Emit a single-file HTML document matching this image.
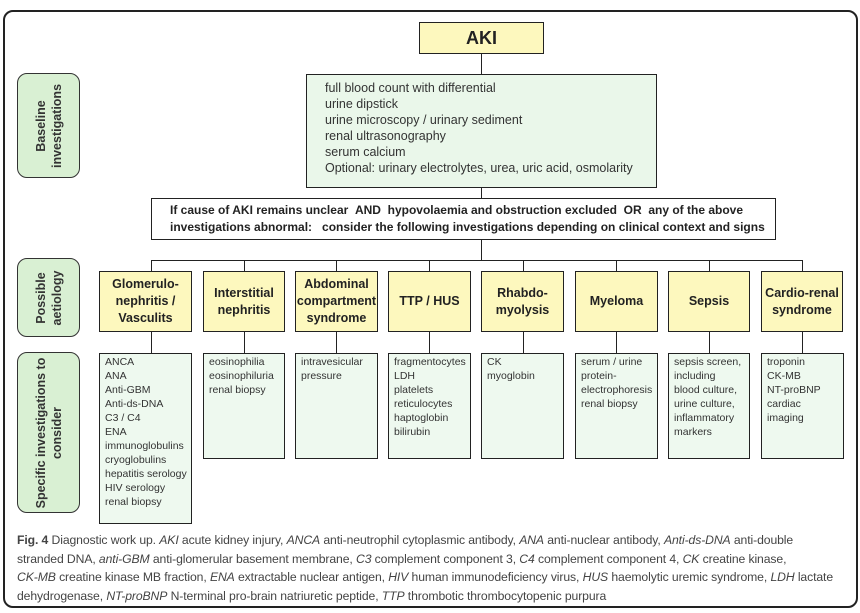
<!DOCTYPE html>
<html><head><meta charset="utf-8"><style>
body{margin:0;width:860px;height:613px;background:#fff;position:relative;overflow:hidden;font-family:"Liberation Sans",sans-serif;color:#222}
div{position:absolute;box-sizing:border-box}
.frame{left:3px;top:10px;width:855px;height:598px;border:2px solid #222;border-radius:10px}
.lab{left:17px;width:63px;border:1px solid #333;border-radius:10px;background:#d9f0d3}
.lab span{position:absolute;left:50%;top:50%;transform:translate(-50%,-50%) rotate(-90deg);white-space:nowrap;font-weight:bold;font-size:12.5px;text-align:center;line-height:16px;color:#333}
.y{top:271px;height:61px;border:1px solid #222;background:#fdf8be;font-weight:bold;font-size:12.5px;line-height:17px;display:flex;align-items:center;justify-content:center;text-align:center}
.g{top:353px;height:106px;border:1px solid #222;background:#eef9ef;font-size:10.5px;line-height:14px;padding:1px 0 0 5px;white-space:nowrap;color:#333}
.l{background:#222}
.cap{left:17px;top:531px;width:840px;font-size:12.2px;line-height:18.7px;color:#444;white-space:nowrap;letter-spacing:-0.1px}
</style></head><body>
<div class="frame"></div>
<div class="lab" style="top:73px;height:105px"><span>Baseline<br>investigations</span></div>
<div class="lab" style="top:258px;height:79px"><span>Possible<br>aetiology</span></div>
<div class="lab" style="top:352px;height:161px"><span>Specific investigations to<br>consider</span></div>

<div class="l" style="left:481px;top:53px;width:1px;height:21px"></div>
<div class="l" style="left:481px;top:187px;width:1px;height:11px"></div>
<div class="l" style="left:481px;top:239px;width:1px;height:21px"></div>
<div class="l" style="left:151px;top:260px;width:652px;height:1px"></div>

<div style="left:419px;top:22px;width:125px;height:32px;border:1px solid #222;background:#fdf8be;font-weight:bold;font-size:18px;text-align:center;line-height:30px">AKI</div>
<div style="left:306px;top:74px;width:351px;height:114px;border:1px solid #222;background:#eaf7ea;font-size:12.5px;line-height:16px;padding:5px 0 0 18px;color:#333">full blood count with differential<br>urine dipstick<br>urine microscopy / urinary sediment<br>renal ultrasonography<br>serum calcium<br>Optional: urinary electrolytes, urea, uric acid, osmolarity</div>
<div style="left:151px;top:198px;width:625px;height:42px;border:1px solid #222;background:#fff;font-weight:bold;font-size:12px;line-height:17px;padding:3px 0 0 18px;white-space:nowrap">If cause of AKI remains unclear &nbsp;AND &nbsp;hypovolaemia and obstruction excluded &nbsp;OR &nbsp;any of the above<br>investigations abnormal: &nbsp; consider the following investigations depending on clinical context and signs</div>

<div class="l" style="left:151px;top:260px;width:1px;height:11px"></div>
<div class="l" style="left:244px;top:260px;width:1px;height:11px"></div>
<div class="l" style="left:336px;top:260px;width:1px;height:11px"></div>
<div class="l" style="left:429px;top:260px;width:1px;height:11px"></div>
<div class="l" style="left:523px;top:260px;width:1px;height:11px"></div>
<div class="l" style="left:616px;top:260px;width:1px;height:11px"></div>
<div class="l" style="left:709px;top:260px;width:1px;height:11px"></div>
<div class="l" style="left:802px;top:260px;width:1px;height:11px"></div>

<div class="l" style="left:151px;top:332px;width:1px;height:21px"></div>
<div class="l" style="left:244px;top:332px;width:1px;height:21px"></div>
<div class="l" style="left:336px;top:332px;width:1px;height:21px"></div>
<div class="l" style="left:429px;top:332px;width:1px;height:21px"></div>
<div class="l" style="left:523px;top:332px;width:1px;height:21px"></div>
<div class="l" style="left:616px;top:332px;width:1px;height:21px"></div>
<div class="l" style="left:709px;top:332px;width:1px;height:21px"></div>
<div class="l" style="left:802px;top:332px;width:1px;height:21px"></div>

<div class="y" style="left:99px;width:93px">Glomerulo-<br>nephritis /<br>Vasculits</div>
<div class="y" style="left:203px;width:82px">Interstitial<br>nephritis</div>
<div class="y" style="left:295px;width:83px">Abdominal<br>compartment<br>syndrome</div>
<div class="y" style="left:388px;width:83px">TTP / HUS</div>
<div class="y" style="left:481px;width:83px">Rhabdo-<br>myolysis</div>
<div class="y" style="left:575px;width:83px">Myeloma</div>
<div class="y" style="left:668px;width:82px">Sepsis</div>
<div class="y" style="left:761px;width:82px">Cardio-renal<br>syndrome</div>

<div class="g" style="left:99px;width:93px;height:171px">ANCA<br>ANA<br>Anti-GBM<br>Anti-ds-DNA<br>C3 / C4<br>ENA<br>immunoglobulins<br>cryoglobulins<br>hepatitis serology<br>HIV serology<br>renal biopsy</div>
<div class="g" style="left:203px;width:82px">eosinophilia<br>eosinophiluria<br>renal biopsy</div>
<div class="g" style="left:295px;width:83px">intravesicular<br>pressure</div>
<div class="g" style="left:388px;width:83px">fragmentocytes<br>LDH<br>platelets<br>reticulocytes<br>haptoglobin<br>bilirubin</div>
<div class="g" style="left:481px;width:83px">CK<br>myoglobin</div>
<div class="g" style="left:575px;width:83px">serum / urine<br>protein-<br>electrophoresis<br>renal biopsy</div>
<div class="g" style="left:668px;width:82px">sepsis screen,<br>including<br>blood culture,<br>urine culture,<br>inflammatory<br>markers</div>
<div class="g" style="left:761px;width:83px">troponin<br>CK-MB<br>NT-proBNP<br>cardiac<br>imaging</div>

<div class="cap"><b>Fig. 4</b> Diagnostic work up. <i>AKI</i> acute kidney injury, <i>ANCA</i> anti-neutrophil cytoplasmic antibody, <i>ANA</i> anti-nuclear antibody, <i>Anti-ds-DNA</i> anti-double<br>stranded DNA, <i>anti-GBM</i> anti-glomerular basement membrane, <i>C3</i> complement component 3, <i>C4</i> complement component 4, <i>CK</i> creatine kinase,<br><i>CK-MB</i> creatine kinase MB fraction, <i>ENA</i> extractable nuclear antigen, <i>HIV</i> human immunodeficiency virus, <i>HUS</i> haemolytic uremic syndrome, <i>LDH</i> lactate<br>dehydrogenase, <i>NT-proBNP</i> N-terminal pro-brain natriuretic peptide, <i>TTP</i> thrombotic thrombocytopenic purpura</div>
</body></html>
